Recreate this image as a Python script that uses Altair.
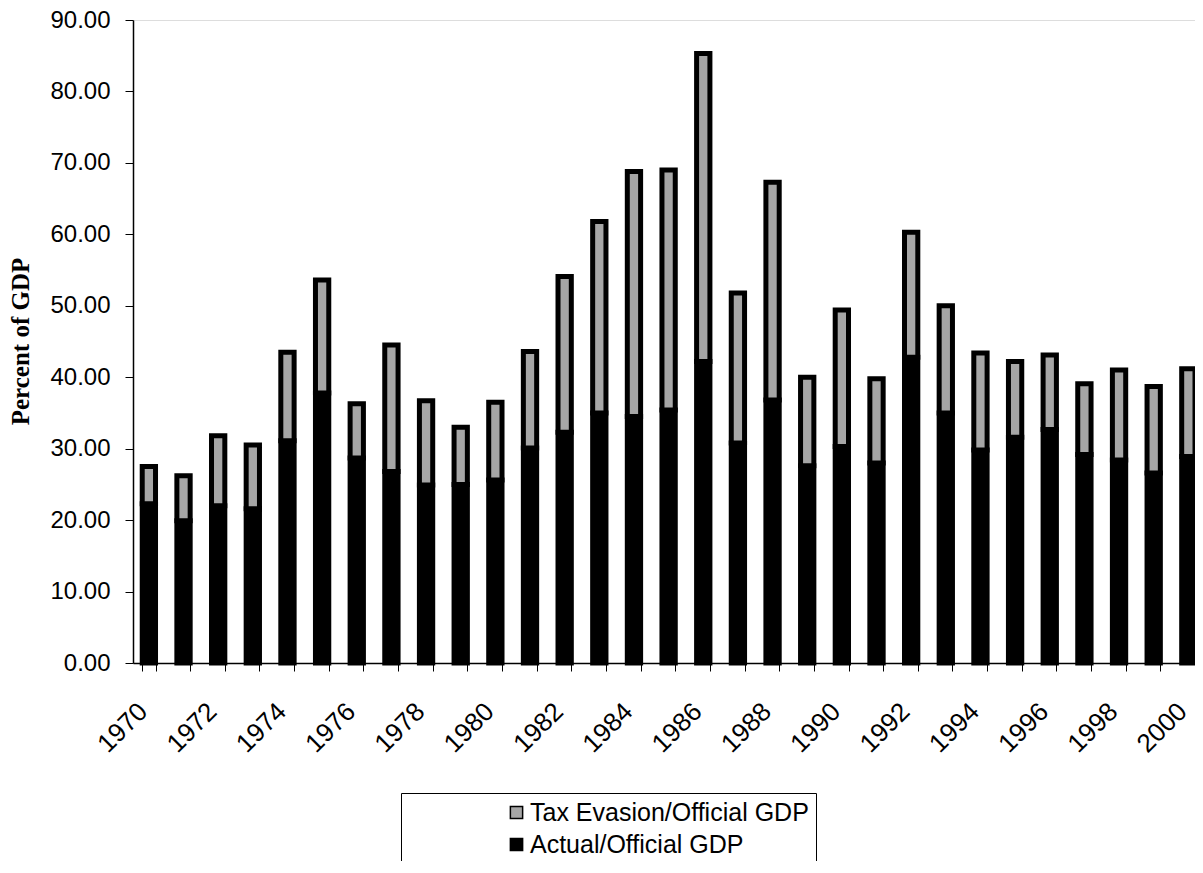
import altair as alt
import pandas as pd

years = list(range(1970, 2001))
actual_gdp = [22.3, 19.9, 22.0, 21.6, 31.1, 37.8, 28.7, 26.8, 24.9, 25.0,
              25.6, 30.1, 32.3, 35.0, 34.5, 35.4, 42.2, 30.8, 36.8, 27.6,
              30.3, 28.0, 42.8, 35.0, 29.8, 31.6, 32.7, 29.2, 28.4, 26.6, 28.9]
tax_evasion = [5.2, 6.3, 9.8, 8.9, 12.4, 15.8, 7.6, 17.7, 11.8, 8.0,
               10.9, 13.5, 21.8, 26.8, 34.3, 33.6, 43.1, 21.0, 30.5, 12.4,
               19.1, 11.8, 17.5, 15.0, 13.6, 10.6, 10.4, 9.9, 12.6, 12.1, 12.3]
series_names = ["Tax Evasion/Official GDP", "Actual/Official GDP"]
series_colors = ["#a6a6a6", "#000000"]
y_ticks = [0, 10, 20, 30, 40, 50, 60, 70, 80, 90]

rows = []
for y, a, t in zip(years, actual_gdp, tax_evasion):
    rows.append({"year": y, "series": series_names[1], "value": a, "ord": 0})
    rows.append({"year": y, "series": series_names[0], "value": t, "ord": 1})
df = pd.DataFrame(rows)

FONT = "Liberation Sans"

chart = alt.Chart(df).mark_bar(stroke="black", strokeWidth=5).encode(
    x=alt.X("year:O",
            scale=alt.Scale(paddingInner=0.616, paddingOuter=0.133, align=1),
            axis=alt.Axis(title=None, labelAngle=-45, labelAlign="right",
                          labelBaseline="middle", labelPadding=36,
                          labelOffset=-6,
                          labelFontSize=26, labelFont=FONT, labelColor="black",
                          labelExpr="datum.value % 2 == 0 ? datum.label : ''",
                          labelOverlap=False, labelFlush=False,
                          tickBand="extent", tickSize=8, tickColor="black",
                          domainColor="black", domainWidth=1.5)),
    y=alt.Y("value:Q", stack="zero",
            scale=alt.Scale(domain=[0, 90], nice=False),
            axis=alt.Axis(title="Percent of GDP", values=y_ticks, format=".2f",
                          labelFontSize=24, labelFont=FONT, labelColor="black",
                          labelPadding=15, tickSize=8, tickColor="black",
                          domainColor="black", domainWidth=1.5, grid=False,
                          titleFont="Liberation Serif", titleFontSize=25,
                          titleFontWeight="bold", titleColor="black",
                          titleAngle=-90, titleX=-113, titleY=321,
                          titleAlign="center", titleBaseline="middle")),
    color=alt.Color("series:N",
                    scale=alt.Scale(domain=series_names, range=series_colors),
                    legend=alt.Legend(title=None, orient="none",
                                      legendX=268, legendY=773,
                                      labelFont=FONT, labelFontSize=25,
                                      labelColor="black", labelLimit=0,
                                      symbolType="square", symbolSize=150,
                                      symbolStrokeColor="black",
                                      symbolStrokeWidth=1.5,
                                      symbolOffset=96, labelOffset=1,
                                      rowPadding=6, padding=7,
                                      strokeColor="black")),
    order=alt.Order("ord:Q", sort="ascending"),
).properties(
    width=1062,
    height=643,
    autosize=alt.AutoSizeParams(type="none"),
    padding={"left": 125, "top": 12, "right": 0, "bottom": 198},
).configure_view(
    stroke="#888888", strokeWidth=1
).configure(background="white")

chart.save("out.html", embed_options={"renderer": "svg", "actions": False})
